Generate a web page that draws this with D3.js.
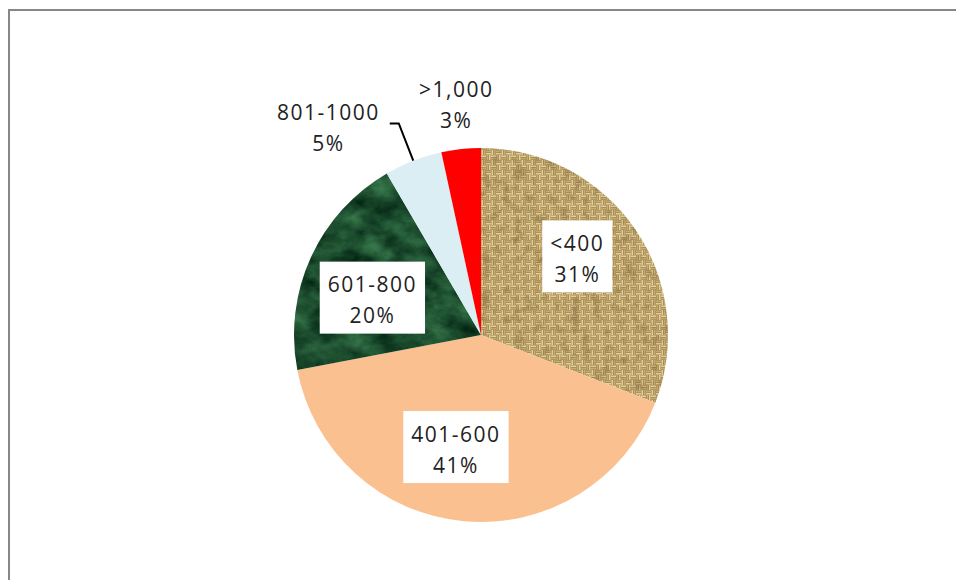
<!DOCTYPE html>
<html>
<head>
<meta charset="utf-8">
<script src="https://cdn.jsdelivr.net/npm/d3@7/dist/d3.min.js"></script>
<style>
  html, body { margin: 0; padding: 0; background: #fff; }
  svg { display: block; }
  text { font-family: "Open Sans", "DejaVu Sans", sans-serif; font-size: 21px; fill: #222; letter-spacing: 1.5px; }
</style>
</head>
<body>
<svg id="chart" width="956" height="580"></svg>
<script>
// ---- data ----
const categories = ["<400", "401-600", "601-800", "801-1000", ">1,000"];
const values = [30.9, 41.1, 19.6, 5.0, 3.4];
const sliceFills = ["url(#burlap)", "#FAC090", "#1D5232", "#DAEEF3", "#FF0000"];
const sliceFilters = ["url(#burlapNoise)", null, "url(#marble)", null, null];

// ---- layout ----
const W = 956, H = 580;
const cx = 481, cy = 335, R = 187;
const lineGap = 31;
// small manual nudges for the inside label boxes (layout only)
const labelNudge = [[-4, -8], [-14, -7], [2, 15]];

const svg = d3.select("#chart");
const defs = svg.append("defs");

// burlap weave pattern
const pat = defs.append("pattern").attr("id", "burlap")
  .attr("patternUnits", "userSpaceOnUse").attr("width", 10).attr("height", 10);
pat.append("rect").attr("width", 10).attr("height", 10).attr("fill", "#917743");
const light = "#e4cf98", mid = "#c6ab72";
pat.append("rect").attr("x", 0).attr("y", 0.4).attr("width", 5).attr("height", 1.8).attr("fill", light);
pat.append("rect").attr("x", 0).attr("y", 2.8).attr("width", 5).attr("height", 1.8).attr("fill", mid);
pat.append("rect").attr("x", 5.4).attr("y", 0).attr("width", 1.8).attr("height", 5).attr("fill", mid);
pat.append("rect").attr("x", 7.8).attr("y", 0).attr("width", 1.8).attr("height", 5).attr("fill", light);
pat.append("rect").attr("x", 0.4).attr("y", 5).attr("width", 1.8).attr("height", 5).attr("fill", light);
pat.append("rect").attr("x", 2.8).attr("y", 5).attr("width", 1.8).attr("height", 5).attr("fill", mid);
pat.append("rect").attr("x", 5).attr("y", 5.4).attr("width", 5).attr("height", 1.8).attr("fill", mid);
pat.append("rect").attr("x", 5).attr("y", 7.8).attr("width", 5).attr("height", 1.8).attr("fill", light);

// burlap noise overlay filter
const bf = defs.append("filter").attr("id", "burlapNoise")
  .attr("x", "-5%").attr("y", "-5%").attr("width", "110%").attr("height", "110%")
  .attr("color-interpolation-filters", "sRGB");
bf.append("feTurbulence").attr("type", "fractalNoise").attr("baseFrequency", 0.09)
  .attr("numOctaves", 3).attr("seed", 4).attr("result", "n");
bf.append("feColorMatrix").attr("in", "n").attr("type", "matrix")
  .attr("values", "0 0 0 0 0.40  0 0 0 0 0.31  0 0 0 0 0.14  1.0 0 0 0 -0.5").attr("result", "nc");
bf.append("feComposite").attr("in", "nc").attr("in2", "SourceGraphic").attr("operator", "in").attr("result", "nclip");
bf.append("feMerge").call(m => {
  m.append("feMergeNode").attr("in", "SourceGraphic");
  m.append("feMergeNode").attr("in", "nclip");
});

// green marble filter
const mf = defs.append("filter").attr("id", "marble")
  .attr("x", "-5%").attr("y", "-5%").attr("width", "110%").attr("height", "110%")
  .attr("color-interpolation-filters", "sRGB");
mf.append("feTurbulence").attr("type", "fractalNoise").attr("baseFrequency", "0.035 0.05")
  .attr("numOctaves", 5).attr("seed", 7).attr("result", "noise");
mf.append("feColorMatrix").attr("in", "noise").attr("type", "matrix")
  .attr("values", "0.32 0 0 0 -0.05  0.50 0 0 0 0.05  0.34 0 0 0 0.01  0 0 0 0 1")
  .attr("result", "col");
mf.append("feComposite").attr("in", "col").attr("in2", "SourceGraphic").attr("operator", "in");

// frame
svg.append("rect").attr("x", 9).attr("y", 10).attr("width", W + 20).attr("height", H + 20)
  .attr("fill", "none").attr("stroke", "#878787").attr("stroke-width", 2);

// pie
const total = d3.sum(values);
const data = categories.map((c, i) => ({ label: c, value: values[i], i }));
const pie = d3.pie().sort(null).value(d => d.value).startAngle(0).endAngle(2 * Math.PI);
const arcs = pie(data);
const arc = d3.arc().innerRadius(0).outerRadius(R);

const g = svg.append("g").attr("transform", `translate(${cx},${cy})`);
g.selectAll("path.slice").data(arcs).join("path")
  .attr("class", "slice")
  .attr("d", arc)
  .attr("fill", d => sliceFills[d.index])
  .attr("filter", d => sliceFilters[d.index]);

const pct = v => Math.round(v / total * 100) + "%";
const midA = d => (d.startAngle + d.endAngle) / 2;
const polar = (r, a) => [r * Math.sin(a), -r * Math.cos(a)];

function addLabel(parent, x, y, lines) {
  const t = parent.append("text").attr("text-anchor", "middle");
  lines.forEach((s, k) => {
    t.append("tspan").attr("x", x).attr("y", y + (k - (lines.length - 1) / 2) * lineGap)
      .attr("dominant-baseline", "central").text(s);
  });
  return t;
}

const lblG = g.append("g");
const inside = arcs.filter(d => d.value / total >= 0.1);
const outside = arcs.filter(d => d.value / total < 0.1);

// inside labels with white boxes
const inArc = d3.arc().innerRadius(R * 0.65).outerRadius(R * 0.65);
inside.forEach((d, k) => {
  let [x, y] = inArc.centroid(d);
  const nudge = labelNudge[k] || [0, 0];
  x += nudge[0]; y += nudge[1];
  const box = lblG.append("rect").attr("fill", "#fff");
  const t = addLabel(lblG, x, y, [d.data.label, pct(d.value)]);
  const bb = t.node().getBBox();
  const w = bb.width + 16, h = 72;
  box.attr("x", x - w / 2).attr("y", y - h / 2 - 2).attr("width", w).attr("height", h);
});

// outside labels
const placed = outside.map(d => {
  const a = midA(d);
  const [x, y] = polar(R + 45, a);
  return { d, a, x, y };
});
placed.forEach((p, k) => {
  const lines = [p.d.data.label, pct(p.d.value)];
  const next = placed[k + 1];
  const t = addLabel(lblG, p.x, p.y, lines);
  const bb = t.node().getBBox();
  let collide = false;
  if (next) collide = Math.abs(next.x - p.x) < bb.width / 2 + 40;
  if (collide) {
    const [sx, sy] = polar(R, p.a);
    const [ex, ey] = polar(R + 40, p.a);
    const hx = ex - 9;
    lblG.append("path")
      .attr("d", `M${sx},${sy}L${ex},${ey}L${hx},${ey}`)
      .attr("fill", "none").attr("stroke", "#000").attr("stroke-width", 2);
    const tx = hx - 10 - bb.width / 2;
    t.selectAll("tspan").each(function (_, k2) {
      d3.select(this).attr("x", tx).attr("y", ey + 4 + (k2 - 0.5) * lineGap);
    });
  }
});
</script>
</body>
</html>
